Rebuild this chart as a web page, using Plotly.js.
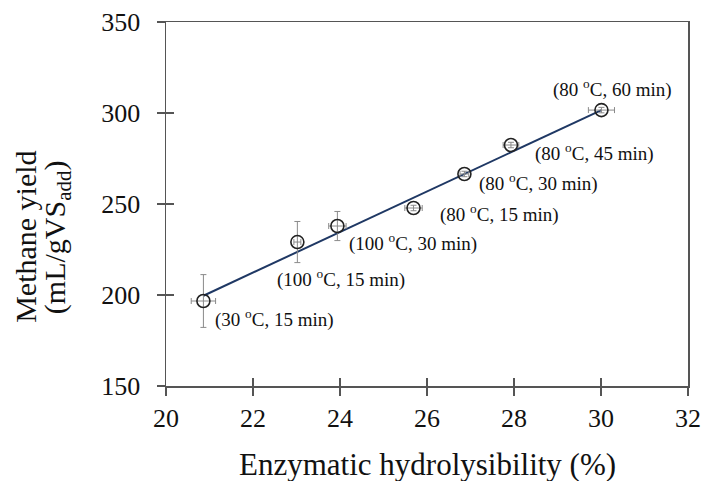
<!DOCTYPE html>
<html>
<head>
<meta charset="utf-8">
<script src="https://cdn.plot.ly/plotly-3.0.1.min.js"></script>
<style>html,body{margin:0;padding:0;background:#fff;}#chart{width:702px;height:481px;}</style>
</head>
<body>
<div id="chart"></div>
<script>
// Data
const labels = ["(30 <sup>o</sup>C, 15 min)", "(100 <sup>o</sup>C, 15 min)", "(100 <sup>o</sup>C, 30 min)",
                "(80 <sup>o</sup>C, 15 min)", "(80 <sup>o</sup>C, 30 min)", "(80 <sup>o</sup>C, 45 min)", "(80 <sup>o</sup>C, 60 min)"];
const hydrolysibility = [20.86, 23.02, 23.94, 25.69, 26.86, 27.93, 30.01];
const hydrolysibilityErr = [0.28, 0.08, 0.2, 0.2, 0.1, 0.18, 0.3];
const methaneYield = [196.7, 229.1, 237.9, 247.8, 266.5, 282.4, 301.6];
const methaneYieldErr = [14.5, 11.3, 8.0, 1.5, 1.5, 1.5, 1.5];
const trendX = [20.86, 30.01];
const trendY = [199.6, 301.6];
const xTicks = [20, 22, 24, 26, 28, 30, 32];
const yTicks = [150, 200, 250, 300, 350];

// label offsets in pixels (style only)
const labelShift = [[10, -17], [-22, -36], [10, -16], [24, -5], [13, -9], [22, -7], [-50, 22]];

const font = 'Liberation Serif, Times New Roman, serif';
const axisColor = '#555';

const traces = [
  {
    x: trendX, y: trendY, type: 'scatter', mode: 'lines',
    line: {color: '#1f3864', width: 2}, hoverinfo: 'skip', showlegend: false
  },
  {
    x: hydrolysibility, y: methaneYield, type: 'scatter', mode: 'markers',
    marker: {symbol: 'circle-open', size: 13, color: '#222', line: {width: 1.6, color: '#222'}},
    error_x: {type: 'data', array: hydrolysibilityErr, visible: true, color: '#8a8a8a', thickness: 1, width: 3},
    error_y: {type: 'data', array: methaneYieldErr, visible: true, color: '#8a8a8a', thickness: 1, width: 3},
    showlegend: false
  },
  {
    x: [], y: [], xaxis: 'x2', yaxis: 'y2', type: 'scatter', mode: 'markers', showlegend: false
  }
];

const annotations = labels.map((t, i) => ({
  x: hydrolysibility[i], y: methaneYield[i], xref: 'x', yref: 'y',
  text: t, showarrow: false, xanchor: 'left', yanchor: 'middle',
  xshift: labelShift[i][0], yshift: labelShift[i][1],
  font: {family: font, size: 19, color: '#111'}
}));
const titleFont = {family: font, size: 30, color: '#111'};
annotations.push({
  xref: 'paper', yref: 'paper', x: -0.268, y: 0.41, xanchor: 'center', yanchor: 'middle',
  text: 'Methane yield', textangle: -90, showarrow: false, font: titleFont
});
annotations.push({
  xref: 'paper', yref: 'paper', x: -0.21, y: 0.41, xanchor: 'center', yanchor: 'middle',
  text: '(mL/gVS<sub>add</sub>)', textangle: -90, showarrow: false, font: titleFont
});
annotations.push({
  xref: 'paper', yref: 'paper', x: 0.5, y: -0.217, xanchor: 'center', yanchor: 'middle',
  text: 'Enzymatic hydrolysibility (%)', showarrow: false, font: {family: font, size: 31, color: '#111'}
});

const baseAxis = {
  showgrid: false, zeroline: false, showline: true, linecolor: axisColor, linewidth: 1.5,
  mirror: true, ticks: 'outside', ticklen: 8, tickwidth: 1.5, tickcolor: axisColor,
  tickfont: {family: font, size: 26, color: '#111'}
};

const layout = {
  width: 702, height: 481,
  margin: {l: 166, r: 14, t: 22, b: 95},
  paper_bgcolor: '#fff', plot_bgcolor: '#fff',
  showlegend: false,
  xaxis: Object.assign({}, baseAxis, {
    range: [20, 32], tickmode: 'array', tickvals: xTicks
  }),
  yaxis: Object.assign({}, baseAxis, {
    range: [150, 350], tickmode: 'array', tickvals: yTicks, ticklabelstandoff: 11
  }),
  xaxis2: {overlaying: 'x', range: [20, 32], tickmode: 'array', tickvals: xTicks, ticks: 'inside', ticklen: 8,
    tickwidth: 1.5, tickcolor: axisColor, showticklabels: false, showgrid: false, zeroline: false, showline: false, side: 'bottom'},
  yaxis2: {overlaying: 'y', range: [150, 350], tickmode: 'array', tickvals: yTicks, ticks: 'inside', ticklen: 8,
    tickwidth: 1.5, tickcolor: axisColor, showticklabels: false, showgrid: false, zeroline: false, showline: false, side: 'left'},
  annotations: annotations
};

Plotly.newPlot('chart', traces, layout, {displayModeBar: false, staticPlot: true});
</script>
</body>
</html>
